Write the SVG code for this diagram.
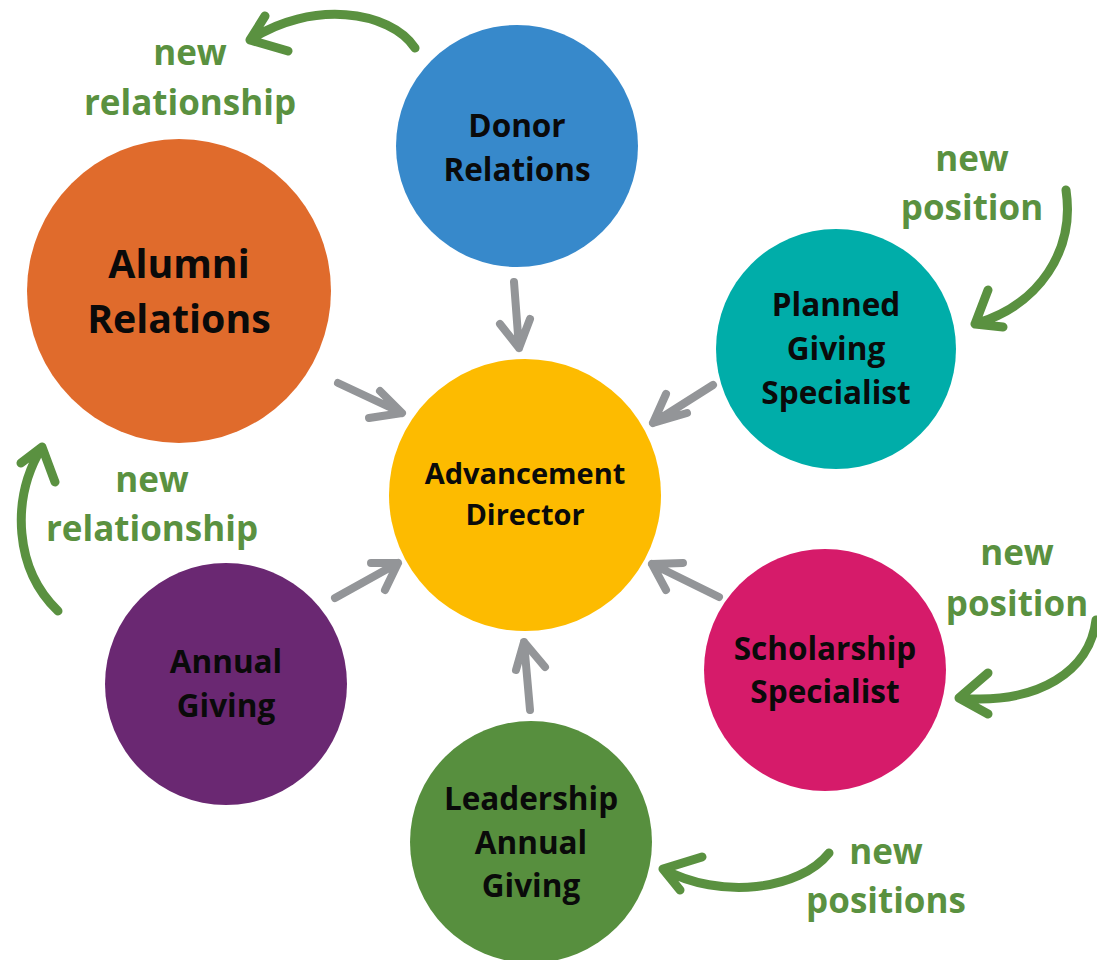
<svg xmlns="http://www.w3.org/2000/svg" width="1097" height="960" viewBox="0 0 1097 960">
<style>
.lbl{font-family:"Open Sans","Liberation Sans",sans-serif;font-weight:700;fill:#0a0a0a;text-anchor:middle}
.g{font-family:"Open Sans","Liberation Sans",sans-serif;font-weight:700;fill:#5A9140;text-anchor:middle;font-size:35px}
.ga{fill:none;stroke:#5A9140;stroke-width:9;stroke-linecap:round;stroke-linejoin:round}
.gr{fill:none;stroke:#939598;stroke-width:8;stroke-linecap:round;stroke-linejoin:round}
</style>
<rect width="1097" height="960" fill="#fff"/>
<g id="connectors">
<path class="gr" d="M514,282 L519,348 M500,324 L519,348 L530,319"/>
<path class="gr" d="M338,383 L402,413 M380,391 L402,413 L369,418"/>
<path class="gr" d="M713,385 L653,423 M666,394 L653,423 L687,413"/>
<path class="gr" d="M335,598 L398,563 M371,563 L398,563 L385,590"/>
<path class="gr" d="M719,597 L652,564 M666,590 L652,564 L683,563"/>
<path class="gr" d="M530,710 L524,642 M516,670 L524,642 L545,667"/>
<path class="ga" d="M415,48 C390,10 310,0 250,40 M265,16 L250,40 L288,51"/>
<path class="ga" d="M1066,190 C1075,250 1040,305 975,324 M988,290 L975,324 L1003,327"/>
<path class="ga" d="M58,611 C15,570 10,500 42,447 M21,463 L42,447 L55,482"/>
<path class="ga" d="M829,853 C800,890 720,900 663,869 M702,857 L663,869 L680,890"/>
<path class="ga" d="M1096,620 C1090,670 1040,705 959,698 M988,673 L959,698 L988,714"/>
</g>
<g id="donor"><circle cx="517" cy="146" r="121" fill="#3789CB"/>
<text class="lbl" font-size="31.5"><tspan x="517" y="137">Donor</tspan><tspan x="517" y="181">Relations</tspan></text></g>
<g id="alumni"><circle cx="179" cy="291" r="152" fill="#E06B2C"/>
<text class="lbl" font-size="39.3"><tspan x="179" y="278">Alumni</tspan><tspan x="179" y="333">Relations</tspan></text></g>
<g id="planned"><circle cx="836" cy="349" r="120" fill="#00ADA9"/>
<text class="lbl" font-size="31.5"><tspan x="836" y="316">Planned</tspan><tspan x="836" y="360">Giving</tspan><tspan x="836" y="404">Specialist</tspan></text></g>
<g id="director"><circle cx="525" cy="495" r="136" fill="#FDBB00"/>
<text class="lbl" font-size="29"><tspan x="525" y="484">Advancement</tspan><tspan x="525" y="525">Director</tspan></text></g>
<g id="annual"><circle cx="226" cy="684" r="121" fill="#6A2872"/>
<text class="lbl" font-size="31.5"><tspan x="226" y="673">Annual</tspan><tspan x="226" y="717">Giving</tspan></text></g>
<g id="scholarship"><circle cx="825" cy="670" r="121" fill="#D61B6A"/>
<text class="lbl" font-size="31.5"><tspan x="825" y="660">Scholarship</tspan><tspan x="825" y="703">Specialist</tspan></text></g>
<g id="leadership"><circle cx="531" cy="842" r="121" fill="#578F3E"/>
<text class="lbl" font-size="31.5"><tspan x="531" y="810">Leadership</tspan><tspan x="531" y="854">Annual</tspan><tspan x="531" y="897">Giving</tspan></text></g>
<g id="labels">
<text class="g"><tspan x="190" y="65">new</tspan><tspan x="190" y="115">relationship</tspan></text>
<text class="g"><tspan x="972" y="171">new</tspan><tspan x="972" y="220">position</tspan></text>
<text class="g"><tspan x="152" y="492">new</tspan><tspan x="152" y="541">relationship</tspan></text>
<text class="g"><tspan x="1017" y="565">new</tspan><tspan x="1017" y="616">position</tspan></text>
<text class="g"><tspan x="886" y="864">new</tspan><tspan x="886" y="913">positions</tspan></text>
</g>
</svg>
